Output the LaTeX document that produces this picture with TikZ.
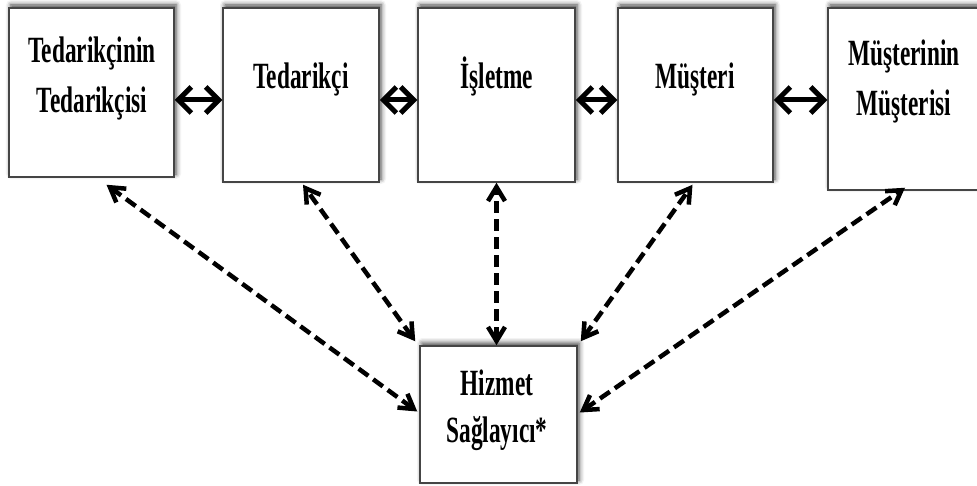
\documentclass[tikz,border=0pt]{standalone}
\usepackage{fontspec}
\newfontfamily\boxfont[FakeStretch=0.63]{Liberation Serif}
\usetikzlibrary{arrows.meta,shadows.blur}
\definecolor{boxline}{HTML}{454545}

\begin{document}
\begin{tikzpicture}[x=1pt,y=-1pt,
  box/.style={draw=boxline, fill=white, line width=1.5pt, inner sep=0pt,
    blur shadow={shadow xshift=2pt, shadow yshift=3pt,
                 shadow blur radius=5pt, shadow opacity=75}},
  boxtext/.style={font=\boxfont\bfseries\fontsize{37}{50}\selectfont,
    align=center, inner sep=0pt},
  flow/.style={line width=5pt,
    {Straight Barb[length=13pt,width=26pt]}-{Straight Barb[length=13pt,width=26pt]}},
  link/.style={line width=4.5pt, dash pattern=on 12pt off 6pt,
    {Straight Barb[length=14pt,width=17pt]}-{Straight Barb[length=14pt,width=17pt]}}
]
\useasboundingbox (0,0) rectangle (977,486);

% chain of partners along the top
\node[box, minimum width=165pt, minimum height=169pt] (b1) at (91.5,92.5) {};
\node[box, minimum width=156pt, minimum height=174pt] (b2) at (301,95) {};
\node[box, minimum width=157pt, minimum height=174pt] (b3) at (496.5,95) {};
\node[box, minimum width=155pt, minimum height=174pt] (b4) at (695.5,95) {};
\node[box, minimum width=154pt, minimum height=182pt] (b5) at (905,99) {};
% service provider below
\node[box, minimum width=157pt, minimum height=137pt] (hs) at (498.5,414.5) {};

% box captions
\node[boxtext] (t1) at (92,78) {Tedarikçinin\\Tedarikçisi};
\node[boxtext, anchor=base] (t2) at (301,89) {Tedarikçi};
\node[boxtext, anchor=base] (t3) at (497,89) {İşletme};
\node[boxtext, anchor=base] (t4) at (695,89) {Müşteri};
\node[boxtext] (t5) at (904,81.5) {Müşterinin\\Müşterisi};
\node[boxtext, font=\boxfont\bfseries\fontsize{37}{47}\selectfont] (t6) at (497,410) {Hizmet\\Sağlayıcı*};

% solid two-way flows between neighbours
\draw[flow] ([yshift=-5pt]b1.east |- b2.east) -- ([yshift=-5pt]b2.west);
\draw[flow] ([yshift=-5pt]b2.east) -- ([yshift=-5pt]b3.west);
\draw[flow] ([yshift=-5pt]b3.east) -- ([yshift=-5pt]b4.west);
\draw[flow] ([yshift=-5pt]b4.east) -- ([yshift=-5pt]b5.west |- b4.east);

% dashed links from the service provider
\draw[link] ([xshift=-2pt,yshift=3pt]hs.west) -- ([xshift=15pt,yshift=-7pt]b1.south);
\draw[link] ([xshift=-4pt,yshift=4pt]hs.north west) -- ([xshift=2pt,yshift=-2pt]b2.south);
\draw[link] (b3.south |- hs.north) -- (b3.south);
\draw[link] ([xshift=3pt,yshift=4pt]hs.north east) -- ([xshift=-3pt,yshift=-2pt]b4.south);
\draw[link] ([xshift=2pt,yshift=2pt]hs.east) -- ([yshift=3pt]b5.south);
\end{tikzpicture}
\end{document}
